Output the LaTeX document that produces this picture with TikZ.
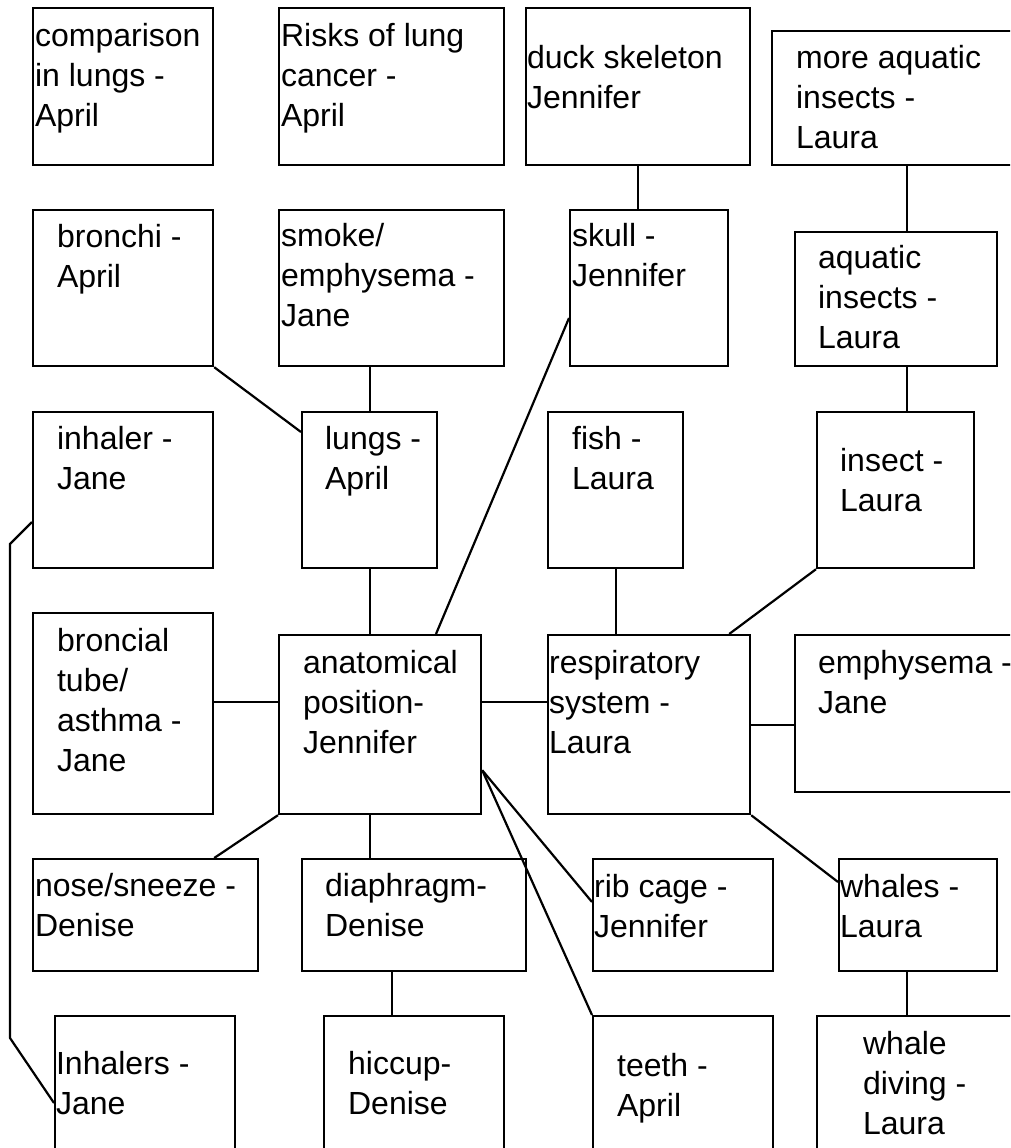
\documentclass[tikz,border=0pt]{standalone}
\usepackage{fontspec}
\setmainfont{Liberation Sans}
\usetikzlibrary{calc}
\definecolor{cink}{HTML}{000000}
\tikzset{
  every picture/.style={x=1pt, y=-1pt, line width=2.2pt},
  box/.style 2 args={draw=cink, anchor=north west, inner sep=0pt, minimum width=#1pt, minimum height=#2pt},
  txt/.style={anchor=north west, yshift=28pt, align=left, inner sep=0pt, text=cink,
    font=\fontsize{32}{40}\selectfont, execute at begin node=\rule{0pt}{28pt}},
  link/.style={draw=cink, line width=2.2pt},
}
\begin{document}
\begin{tikzpicture}
  \useasboundingbox (0,0) rectangle (1010,1148);
  \clip (0,0) rectangle (1010,1148);
  % row 1
  \node[box={180}{157}] (comp) at (32,7) {};
  \node[txt] (comp-t) at (34,50) {comparison\\in lungs -\\April};
  \node[box={225}{157}] (risks) at (278,7) {};
  \node[txt] (risks-t) at (280,50) {Risks of lung\\cancer -\\April};
  \node[box={224}{157}] (duck) at (525,7) {};
  \node[txt] (duck-t) at (526,72) {duck skeleton\\Jennifer};
  \node[box={270}{134}] (maq) at (771,30) {};
  \node[txt] (maq-t) at (795,72) {more aquatic\\insects -\\Laura};
  % row 2
  \node[box={180}{156}] (bronchi) at (32,209) {};
  \node[txt] (bronchi-t) at (56,251) {bronchi -\\April};
  \node[box={225}{156}] (smoke) at (278,209) {};
  \node[txt] (smoke-t) at (280,250) {smoke/\\emphysema -\\Jane};
  \node[box={158}{156}] (skull) at (569,209) {};
  \node[txt] (skull-t) at (571,250) {skull -\\Jennifer};
  \node[box={202}{134}] (aq) at (794,231) {};
  \node[txt] (aq-t) at (817,272) {aquatic\\insects -\\Laura};
  % row 3
  \node[box={180}{156}] (inhaler) at (32,411) {};
  \node[txt] (inhaler-t) at (56,453) {inhaler -\\Jane};
  \node[box={135}{156}] (lungs) at (301,411) {};
  \node[txt] (lungs-t) at (324,453) {lungs -\\April};
  \node[box={135}{156}] (fish) at (547,411) {};
  \node[txt] (fish-t) at (571,453) {fish -\\Laura};
  \node[box={157}{156}] (insect) at (816,411) {};
  \node[txt] (insect-t) at (839,475) {insect -\\Laura};
  % row 4
  \node[box={180}{201}] (bronchial) at (32,612) {};
  \node[txt] (bronchial-t) at (56,655) {broncial\\tube/\\asthma -\\Jane};
  \node[box={202}{179}] (anat) at (278,634) {};
  \node[txt] (anat-t) at (302,677) {anatomical\\position-\\Jennifer};
  \node[box={202}{179}] (resp) at (547,634) {};
  \node[txt] (resp-t) at (548,677) {respiratory\\system -\\Laura};
  \node[box={250}{157}] (emph) at (794,634) {};
  \node[txt] (emph-t) at (817,677) {emphysema -\\Jane};
  % row 5
  \node[box={225}{112}] (nose) at (32,858) {};
  \node[txt] (nose-t) at (34,900) {nose/sneeze -\\Denise};
  \node[box={224}{112}] (diaph) at (301,858) {};
  \node[txt] (diaph-t) at (324,900) {diaphragm-\\Denise};
  \node[box={180}{112}] (rib) at (592,858) {};
  \node[txt] (rib-t) at (593,901) {rib cage -\\Jennifer};
  \node[box={158}{112}] (whales) at (838,858) {};
  \node[txt] (whales-t) at (839,901) {whales -\\Laura};
  % row 6
  \node[box={180}{150}] (inhalers) at (54,1015) {};
  \node[txt] (inhalers-t) at (55,1078) {Inhalers -\\Jane};
  \node[box={180}{150}] (hiccup) at (323,1015) {};
  \node[txt] (hiccup-t) at (347,1078) {hiccup-\\Denise};
  \node[box={180}{150}] (teeth) at (592,1015) {};
  \node[txt] (teeth-t) at (616,1080) {teeth -\\April};
  \node[box={230}{150}] (wdive) at (816,1015) {};
  \node[txt] (wdive-t) at (862,1058) {whale\\diving -\\Laura};
  % links
  \coordinate (bendA) at (10,544);
  \coordinate (bendB) at (10,1038);
  \coordinate (midrow) at ([yshift=-68pt]anat.north west);
  \coordinate (dh) at ([xshift=-22pt]diaph.south);
  \coordinate (anatR) at ([yshift=45pt]anat.south east);
  \draw[link] (duck.south) -- (duck.south |- skull.north);
  \draw[link] (maq.south) -- (maq.south |- aq.north);
  \draw[link] (maq.south |- aq.south) -- (maq.south |- insect.north);
  \draw[link] (lungs.north |- smoke.south) -- (lungs.north);
  \draw[link] (bronchi.south east) -- ([yshift=-21pt]lungs.north west);
  \draw[link] ([yshift=-109pt]skull.north west) -- ([xshift=158pt]anat.north west);
  \draw[link] (lungs.south) -- (lungs.south |- anat.north);
  \draw[link] ([yshift=-111pt]inhaler.north west) -- (bendA) -- (bendB) -- ([yshift=-88pt]inhalers.north west);
  \draw[link] (midrow) -- (bronchial.east |- midrow);
  \draw[link] (anat.east |- midrow) -- (resp.west |- midrow);
  \draw[link] (resp.east) -- (emph.west |- resp.east);
  \draw[link] (fish.south) -- (fish.south |- resp.north);
  \draw[link] (insect.south west) -- ([xshift=-22pt]resp.north east);
  \draw[link] (anat.south west) -- ([xshift=-45pt]nose.north east);
  \draw[link] (lungs.south |- anat.south) -- (lungs.south |- diaph.north);
  \draw[link] (dh) -- (dh |- hiccup.north);
  \draw[link] (anatR) -- ([yshift=-44pt]rib.north west);
  \draw[link] (anatR) -- (teeth.north west);
  \draw[link] (resp.south east) -- ([yshift=-24pt]whales.north west);
  \draw[link] (maq.south |- whales.south) -- (maq.south |- wdive.north);
\end{tikzpicture}
\end{document}
